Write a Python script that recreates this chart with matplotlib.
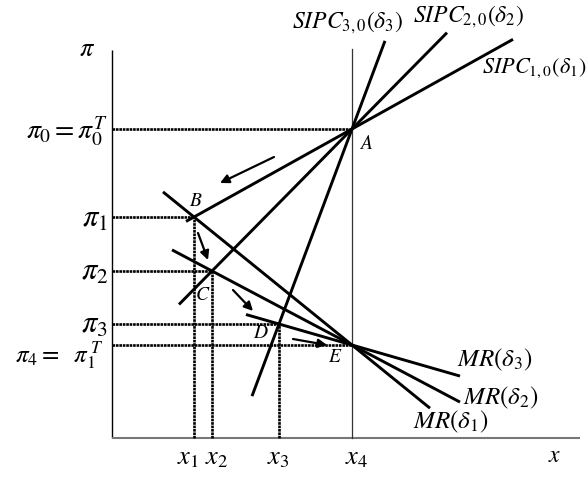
import matplotlib
matplotlib.use("Agg")
import matplotlib.pyplot as plt

plt.rcParams["mathtext.fontset"] = "stix"
plt.rcParams["font.family"] = ["Liberation Serif", "DejaVu Serif"]

# Output levels on the x axis: x1..x4
x_levels = [82, 100, 167, 240]
x_labels = [r"$x_1$", r"$x_2$", r"$x_3$", r"$x_4$"]

# Inflation levels: pi0..pi4
pi_levels = [309, 221, 167, 114, 93]
pi_labels = [r"$\pi_0 = \pi_0^T$", r"$\pi_1$", r"$\pi_2$", r"$\pi_3$",
             r"$\pi_4 =\ \ \pi_{\mathit{1}}^{\,T}$"]

# Equilibrium points (x index, pi index)
point_names = ["A", "B", "C", "D", "E"]
point_x_idx = [3, 0, 1, 2, 3]
point_pi_idx = [0, 1, 2, 3, 4]

# Short-run Phillips curves: pass through A and B / C / D
sipc_labels = [r"$SIPC_{1,0}(\delta_1)$", r"$SIPC_{2,0}(\delta_2)$", r"$SIPC_{3,0}(\delta_3)$"]
sipc_through = ["B", "C", "D"]
sipc_x_start = [74, 67, 140]
sipc_x_end = [401, 335, 273]

# Monetary rule lines: pass through B / C / D and E
mr_labels = [r"$MR(\delta_1)$", r"$MR(\delta_2)$", r"$MR(\delta_3)$"]
mr_through = ["B", "C", "D"]
mr_x_start = [51, 60, 134]
mr_x_end = [318, 348, 348]

# Adjustment path arrows (tail -> head)
arrow_tail = [(162, 281), (86, 205), (121, 148), (181, 99)]
arrow_head = [(108, 255), (96, 178), (141, 127), (215, 93)]

fig = plt.figure(figsize=(5.87, 4.78), dpi=100)
ax = fig.add_axes([0, 0, 1, 1])
ax.set_xlim(-112, 475)
ax.set_ylim(-40, 438)
ax.axis("off")

pts = {n: (x_levels[xi], pi_levels[pi]) for n, xi, pi in zip(point_names, point_x_idx, point_pi_idx)}

# axes
ax.plot([0, 0], [0, 388], color="black", lw=1.0, solid_capstyle="butt")
ax.plot([0, 468], [0, 0], color="#777777", lw=1.5, solid_capstyle="butt")
ax.plot([x_levels[3]] * 2, [0, 389], color="#333333", lw=0.9)

dot = dict(color="black", lw=1.9, linestyle=(0, (1.0, 0.3)))
# horizontal guides from the pi axis to each point
for n in ["A", "B", "C", "D", "E"]:
    px, py = pts[n]
    ax.plot([0, px], [py, py], **dot)
# vertical guides down to the x axis
for n in ["B", "C", "D"]:
    px, py = pts[n]
    ax.plot([px, px], [0, py], **dot)

A = pts["A"]
E = pts["E"]
thick = dict(color="black", lw=2.1, solid_capstyle="butt")
for through, xs, xe in zip(sipc_through, sipc_x_start, sipc_x_end):
    px, py = pts[through]
    m = (A[1] - py) / (A[0] - px)
    ax.plot([xs, xe], [A[1] + m * (xs - A[0]), A[1] + m * (xe - A[0])], **thick)
for through, xs, xe in zip(mr_through, mr_x_start, mr_x_end):
    px, py = pts[through]
    m = (E[1] - py) / (E[0] - px)
    ax.plot([xs, xe], [E[1] + m * (xs - E[0]), E[1] + m * (xe - E[0])], **thick)

for t, h in zip(arrow_tail, arrow_head):
    ax.annotate("", xy=h, xytext=t,
                arrowprops=dict(arrowstyle="-|>", lw=1.6, color="black",
                                mutation_scale=13, shrinkA=0, shrinkB=0))

# axis labels
ax.text(-25, 388, r"$\pi$", fontsize=19, ha="center", va="center")
ax.text(443, -18, r"$x$", fontsize=17, ha="center", va="center")
x_label_shift = [-6, 5, -1, 5]
for xv, dx, lab in zip(x_levels, x_label_shift, x_labels):
    ax.text(xv + dx, -21, lab, fontsize=19, ha="center", va="center")

pi_label_pos = [(-4, 306), (-4, 219), (-4, 166), (-4, 113), (-9, 82)]
pi_label_size = [20, 22, 22, 22, 18]
for (lx, ly), lab, fs in zip(pi_label_pos, pi_labels, pi_label_size):
    ax.text(lx, ly, lab, fontsize=fs, ha="right", va="center")

# point letters
letter_pos = {"A": (254, 294), "B": (84, 237), "C": (91, 143), "D": (149, 104), "E": (223, 80)}
for n in point_names:
    ax.text(*letter_pos[n], r"$%s$" % n, fontsize=14, ha="center", va="center")

# curve labels
ax.text(370, 370, sipc_labels[0], fontsize=16, ha="left", va="center")
ax.text(356, 421, sipc_labels[1], fontsize=17, ha="center", va="center")
ax.text(235, 415, sipc_labels[2], fontsize=17, ha="center", va="center")
ax.text(301, 16, mr_labels[0], fontsize=18, ha="left", va="center")
ax.text(351, 40, mr_labels[1], fontsize=18, ha="left", va="center")
ax.text(345, 78, mr_labels[2], fontsize=18, ha="left", va="center")

fig.savefig("out.png", dpi=100)
